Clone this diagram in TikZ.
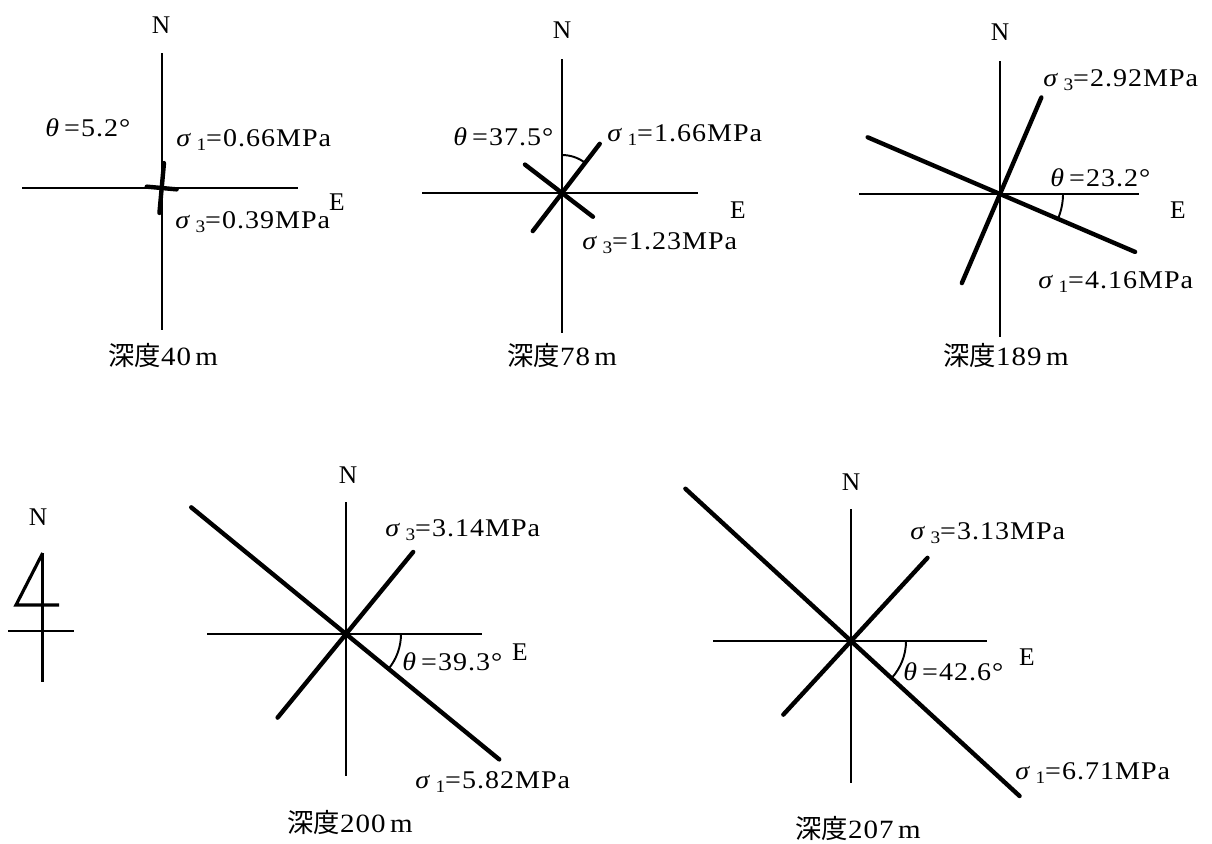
\documentclass[tikz,border=0pt]{standalone}
\usepackage{fontspec}
\usetikzlibrary{calc}
\setmainfont{Liberation Serif}
\newfontfamily\lab{Liberation Serif}[FakeStretch=1.1,LetterSpace=4]
\newfontfamily\cjk{Noto Sans CJK JP}
\newcommand{\sg}[1]{{\itshape σ}\kern0.25em\raisebox{-0.4ex}{\fontsize{10}{10}\selectfont #1}}
\newcommand{\thl}{{\itshape θ}\kern0.2em}
\begin{document}
\begin{tikzpicture}[x=0.02cm,y=0.02cm,
  axisline/.style={line width=1.1pt},
  stress/.style={line width=2.5pt,line cap=round},
  arcl/.style={line width=1.1pt},
  lbl/.style={inner sep=0pt,anchor=west,font=\fontsize{14.5}{16}\selectfont\lab},
  dirlbl/.style={inner sep=0pt,font=\fontsize{14.5}{16}\selectfont},
  captxt/.style={inner sep=0pt,anchor=west,font=\fontsize{15}{17}\selectfont\lab}]
\useasboundingbox (0,0) rectangle (1212,-843);

% ---------- depth 40 m ----------
\coordinate (c1) at (161.7,-188);
\coordinate (n1t) at (161.7,-53);  \coordinate (n1b) at (161.7,-330);
\coordinate (e1l) at (22,-188);    \coordinate (e1r) at (298,-188);
\draw[axisline] (n1t) -- (n1b);
\draw[axisline] (e1l) -- (e1r);
\draw[stress] ($(c1)+(84.8:25)$) -- ($(c1)+(264.8:25)$);
\draw[stress] ($(c1)+(174.8:15)$) -- ($(c1)+(-5.2:15)$);
\node[dirlbl] (N1) at (161,-25) {N};
\node[dirlbl] (E1) at (337,-202) {E};
\node[lbl] (t1) at (45,-128) {\thl=5.2°};
\node[lbl] (s11) at (176,-140) {\sg{1}=0.66MPa};
\node[lbl] (s13) at (175,-222) {\sg{3}=0.39MPa};
\node[captxt] (cap1) at (108,-355) {{\cjk 深度}40\,m};

% ---------- depth 78 m ----------
\coordinate (c2) at (562,-193);
\coordinate (n2t) at (562,-59);  \coordinate (n2b) at (562,-333);
\coordinate (e2l) at (422,-193); \coordinate (e2r) at (698,-193);
\draw[axisline] (n2t) -- (n2b);
\draw[axisline] (e2l) -- (e2r);
\draw[stress] ($(c2)+(52.5:62)$) -- ($(c2)+(232.5:48)$);
\draw[stress] ($(c2)+(142.5:46.7)$) -- ($(c2)+(-37.5:39)$);
\draw[arcl] ($(c2)+(90:38)$) arc[start angle=90,end angle=52.5,radius=38];
\node[dirlbl] (N2) at (562,-30) {N};
\node[dirlbl] (E2) at (738,-210) {E};
\node[lbl] (t2) at (453,-137) {\thl=37.5°};
\node[lbl] (s21) at (607,-135) {\sg{1}=1.66MPa};
\node[lbl] (s23) at (582,-243) {\sg{3}=1.23MPa};
\node[captxt] (cap2) at (507,-355) {{\cjk 深度}78\,m};

% ---------- depth 189 m ----------
\coordinate (c3) at (1000,-194);
\coordinate (n3t) at (1000,-61);  \coordinate (n3b) at (1000,-337);
\coordinate (e3l) at (859,-194);  \coordinate (e3r) at (1139,-194);
\draw[axisline] (n3t) -- (n3b);
\draw[axisline] (e3l) -- (e3r);
\draw[stress] ($(c3)+(-23.2:147)$) -- ($(c3)+(156.8:144)$);
\draw[stress] ($(c3)+(66.8:105)$) -- ($(c3)+(246.8:97)$);
\draw[arcl] ($(c3)+(0:63)$) arc[start angle=0,end angle=-23.2,radius=63];
\node[dirlbl] (N3) at (1000,-32) {N};
\node[dirlbl] (E3) at (1178,-210) {E};
\node[lbl] (s33) at (1043,-80) {\sg{3}=2.92MPa};
\node[lbl] (t3) at (1050,-178) {\thl=23.2°};
\node[lbl] (s31) at (1038,-282) {\sg{1}=4.16MPa};
\node[captxt] (cap3) at (943,-355) {{\cjk 深度}189\,m};

% ---------- north symbol ----------
\coordinate (na) at (42.7,-553); \coordinate (nb) at (42.7,-682);
\coordinate (nc) at (16,-605);   \coordinate (nd) at (59,-605);
\coordinate (ne) at (8,-631);    \coordinate (nf) at (74,-631);
\draw[line width=1.8pt] (na) -- (nb);
\draw[line width=1.8pt,line join=miter] (na) -- (nc) -- (nd);
\draw[line width=1.5pt] (ne) -- (nf);
\node[dirlbl] (N0) at (38,-517) {N};

% ---------- depth 200 m ----------
\coordinate (c4) at (346,-634);
\coordinate (n4t) at (346,-502);  \coordinate (n4b) at (346,-776);
\coordinate (e4l) at (207,-634);  \coordinate (e4r) at (482,-634);
\draw[axisline] (n4t) -- (n4b);
\draw[axisline] (e4l) -- (e4r);
\draw[stress] ($(c4)+(-39.3:198)$) -- ($(c4)+(140.7:200)$);
\draw[stress] ($(c4)+(50.7:106)$) -- ($(c4)+(230.7:108)$);
\draw[arcl] ($(c4)+(0:55)$) arc[start angle=0,end angle=-39.3,radius=55];
\node[dirlbl] (N4) at (348,-475) {N};
\node[dirlbl] (E4) at (520,-652) {E};
\node[lbl] (s43) at (385,-530) {\sg{3}=3.14MPa};
\node[lbl] (t4) at (402,-662) {\thl=39.3°};
\node[lbl] (s41) at (415,-782) {\sg{1}=5.82MPa};
\node[captxt] (cap4) at (287,-822) {{\cjk 深度}200\,m};

% ---------- depth 207 m ----------
\coordinate (c5) at (851,-641);
\coordinate (n5t) at (851,-509);  \coordinate (n5b) at (851,-783);
\coordinate (e5l) at (713,-641);  \coordinate (e5r) at (987,-641);
\draw[axisline] (n5t) -- (n5b);
\draw[axisline] (e5l) -- (e5r);
\draw[stress] ($(c5)+(-42.6:229)$) -- ($(c5)+(137.4:225)$);
\draw[stress] ($(c5)+(47.4:113)$) -- ($(c5)+(227.4:100)$);
\draw[arcl] ($(c5)+(0:55)$) arc[start angle=0,end angle=-42.6,radius=55];
\node[dirlbl] (N5) at (851,-482) {N};
\node[dirlbl] (E5) at (1027,-657) {E};
\node[lbl] (s53) at (910,-533) {\sg{3}=3.13MPa};
\node[lbl] (t5) at (903,-672) {\thl=42.6°};
\node[lbl] (s51) at (1015,-773) {\sg{1}=6.71MPa};
\node[captxt] (cap5) at (795,-828) {{\cjk 深度}207\,m};
\end{tikzpicture}
\end{document}
